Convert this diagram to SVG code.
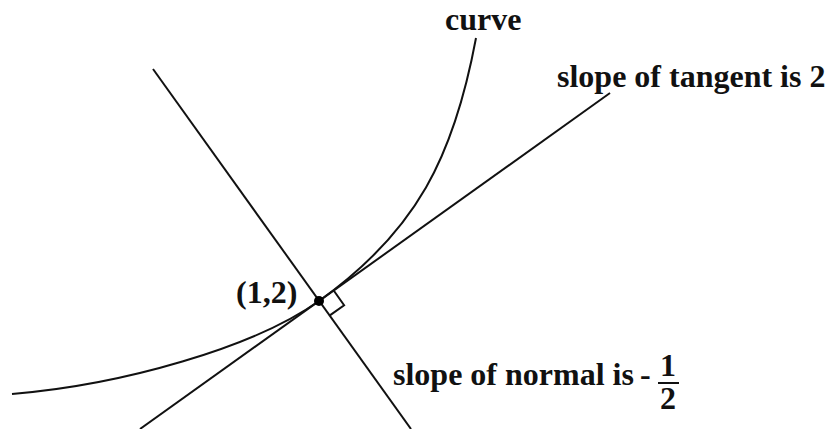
<svg xmlns="http://www.w3.org/2000/svg" width="829" height="429" viewBox="0 0 829 429">
<style>
.ln{fill:none;stroke:#111;stroke-width:2}
.t{font-family:'Liberation Serif','Times New Roman','DejaVu Serif',serif;font-weight:700;font-size:32px;fill:#111}
</style>
<rect width="829" height="429" fill="#fff"/>
<g id="connectors">
<path id="curve-line" class="ln" d="M12,394 C122,385 253.9,347.5 319,301 C417,231 454,156 476,38"/>
<line id="tangent" class="ln" x1="140" y1="429" x2="610" y2="93"/>
<line id="normal" class="ln" x1="153" y1="69" x2="411" y2="429"/>
<polyline id="right-angle" class="ln" points="333.7,290.5 344.1,305.2 329.5,315.6"/>
</g>
<g id="point">
<circle cx="319" cy="301" r="5" fill="#000"/>
<text class="t" x="236" y="303">(1,2)</text>
</g>
<g id="curve-label"><text class="t" x="445" y="30">curve</text></g>
<g id="tangent-label"><text class="t" x="557" y="87">slope of tangent is 2</text></g>
<g id="normal-label">
<text class="t" x="393" y="385">slope of normal is</text>
<text class="t" x="640" y="385">-</text>
<text class="t" x="668" y="376" text-anchor="middle">1</text>
<line x1="658" y1="383" x2="679" y2="383" stroke="#111" stroke-width="2"/>
<text class="t" x="668" y="409" text-anchor="middle">2</text>
</g>
</svg>
